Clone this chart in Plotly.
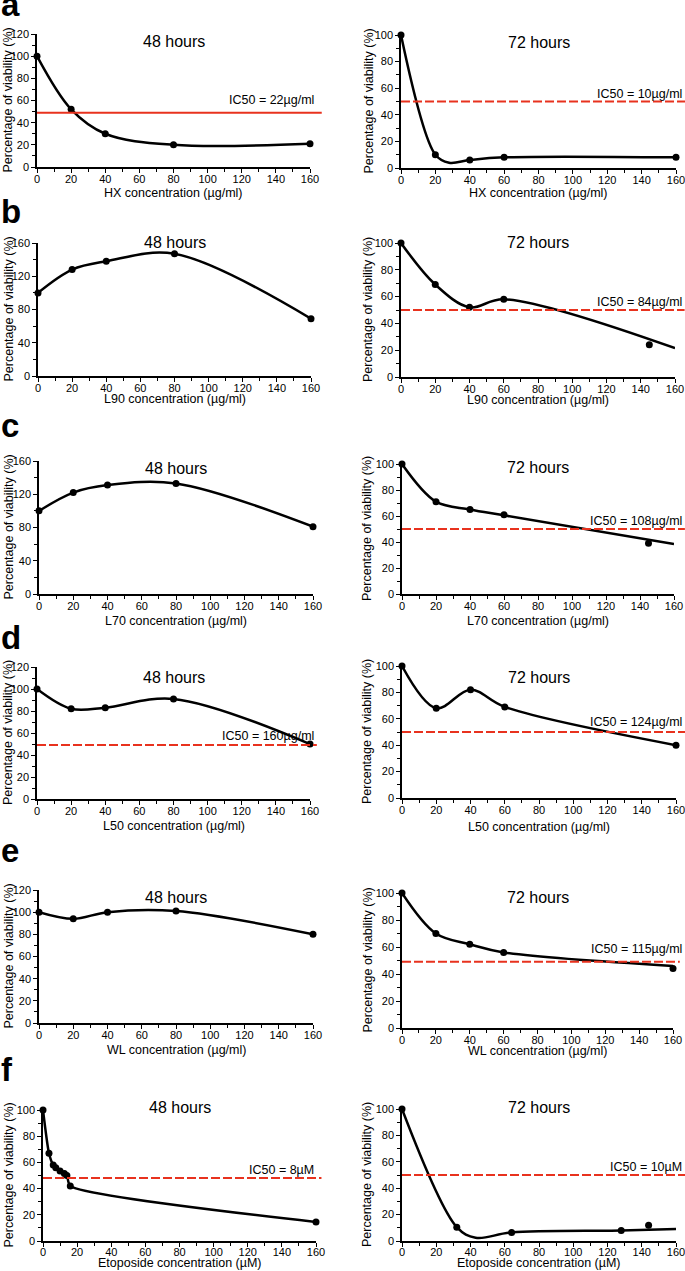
import plotly.graph_objects as go

W, H = 685, 1271
FONT = "Liberation Sans, Arial, sans-serif"
RED = "#e8321e"

# ---- data (concentration, % viability) ----
HX48_X = [0, 20, 40, 80, 160]
HX48_Y = [100, 52, 30, 20, 21]
HX72_X = [0, 20, 40, 60, 160]
HX72_Y = [100, 10, 6, 8, 8]
HX72_FIT_X = [0, 20, 28, 40, 60, 160]
HX72_FIT_Y = [100, 10, 4, 6, 8, 8]

L90_48_X = [0, 20, 40, 80, 160]
L90_48_Y = [100, 128, 138, 147, 69]
L90_72_X = [0, 20, 40, 60, 145]
L90_72_Y = [100, 69, 52, 58, 24]
L90_72_FIT_X = [0, 20, 40, 60, 160]
L90_72_FIT_Y = [100, 69, 52, 58, 21.5]

L70_48_X = [0, 20, 40, 80, 160]
L70_48_Y = [100, 122, 131, 133, 81]
L70_72_X = [0, 20, 40, 60, 145]
L70_72_Y = [100, 71, 65, 61, 39]
L70_72_FIT_X = [0, 20, 40, 60, 160]
L70_72_FIT_Y = [100, 71, 65, 60.5, 38.5]

L50_48_X = [0, 20, 40, 80, 160]
L50_48_Y = [100, 82, 83, 91, 50]
L50_72_X = [0, 20, 40, 60, 160]
L50_72_Y = [100, 68, 82, 69, 40]

WL48_X = [0, 20, 40, 80, 160]
WL48_Y = [100, 94, 100, 101, 80]
WL72_X = [0, 20, 40, 60, 160]
WL72_Y = [100, 70, 62, 56, 44]
WL72_FIT_X = [0, 20, 40, 60, 160]
WL72_FIT_Y = [100, 70, 62, 56, 46]

ETO48_X = [0, 3.5, 6, 7.5, 10, 12.5, 14, 16, 160]
ETO48_Y = [100, 67, 58, 56, 53.5, 51.5, 50, 42, 14.5]
ETO72_X = [0, 32, 64, 128, 144]
ETO72_Y = [100, 10.5, 6.5, 8, 12]
ETO72_FIT_X = [0, 32, 43, 64, 128, 160]
ETO72_FIT_Y = [100, 10.5, 2.5, 6.5, 8, 9]

LETTERS = ["a", "b", "c", "d", "e", "f"]
X_LABELS = ["HX concentration (µg/ml)", "L90 concentration (µg/ml)",
            "L70 concentration (µg/ml)", "L50 concentration (µg/ml)",
            "WL concentration (µg/ml)", "Etoposide concentration (µM)"]
Y_MAX = [120, 100, 160, 100, 160, 100, 120, 100, 120, 100, 100, 100]
IC50_VAL = [49, 50, None, 50, None, 50, 49, 50, None, 49, 48, 50]
IC50_TXT = ["IC50 = 22µg/ml", "IC50 = 10µg/ml", None, "IC50 = 84µg/ml",
            None, "IC50 = 108µg/ml", "IC50 = 160µg/ml", "IC50 = 124µg/ml",
            None, "IC50 = 115µg/ml", "IC50 = 8µM", "IC50 = 10µM"]

panels = [
    (HX48_X, HX48_Y, HX48_X, HX48_Y),
    (HX72_X, HX72_Y, HX72_FIT_X, HX72_FIT_Y),
    (L90_48_X, L90_48_Y, L90_48_X, L90_48_Y),
    (L90_72_X, L90_72_Y, L90_72_FIT_X, L90_72_FIT_Y),
    (L70_48_X, L70_48_Y, L70_48_X, L70_48_Y),
    (L70_72_X, L70_72_Y, L70_72_FIT_X, L70_72_FIT_Y),
    (L50_48_X, L50_48_Y, L50_48_X, L50_48_Y),
    (L50_72_X, L50_72_Y, L50_72_X, L50_72_Y),
    (WL48_X, WL48_Y, WL48_X, WL48_Y),
    (WL72_X, WL72_Y, WL72_FIT_X, WL72_FIT_Y),
    (ETO48_X, ETO48_Y, ETO48_X, ETO48_Y),
    (ETO72_X, ETO72_Y, ETO72_FIT_X, ETO72_FIT_Y),
]

# ---- layout geometry (pixels: left, right, top, bottom of plot area) ----
BOXES = [(37, 310, 34, 167), (401, 676, 35, 168),
         (38, 311, 243, 376), (401, 675, 243, 377),
         (39, 313, 461, 594), (402, 674, 464, 594),
         (37, 310, 667, 799), (402, 676, 666, 798),
         (39, 313, 890, 1023), (402, 673, 893, 1028),
         (43, 316, 1110, 1241), (402, 676, 1109, 1241)]
TITLE_OFF = [8, 7, 0, 0, 7, 4, 10, 11, 7, 4, -3, -2]
XT_OFF = [26, 25, 23, 23, 27, 27, 27, 29, 27, 23, 22, 22]
XLBL_STANDOFF = [-3, -3, -3, -3, -3, -3, -3, -3, -3, -3, -4, -4]
YT_OFF = [29, 33, 30, 33, 31, 35, 29, 35, 31, 35, 35, 35]
IC_TXT_X = [1.018, 1.025, 0, 1.028, 0, 1.032, 1.018, 1.024, 0, 1.037, 0.996, 1.024]
IC_LINE_END = [1.043, 1.035, 0, 1.035, 0, 1.04, 1.025, 1.033, 0, 1.025, 1.02, 1.033]
IC_TXT_OFF = [12.5, 7.7, 0, 8, 0, 8.3, 9.3, 10, 0, 12.7, 7.7, 7.7]
LETTER_BASE = [18, 225, 438, 650, 863, 1082]

fig = go.Figure()
shapes, annos = [], []

for i, (px, py, fx, fy) in enumerate(panels):
    n = i + 1
    xs = "" if n == 1 else str(n)
    l, r, t, b = BOXES[i]
    ymax = Y_MAX[i]
    ydt = 40 if ymax == 160 else 20

    fig.add_trace(go.Scatter(x=fx, y=fy, mode="lines", xaxis="x" + xs, yaxis="y" + xs,
                             line=dict(color="black", width=2.5, shape="spline",
                                       smoothing=0.6 if i == 10 else 1.0),
                             hoverinfo="skip"))
    fig.add_trace(go.Scatter(x=px, y=py, mode="markers", xaxis="x" + xs, yaxis="y" + xs,
                             marker=dict(color="black", size=7, symbol="circle"),
                             cliponaxis=False))

    common = dict(showline=True, linecolor="black", linewidth=1.5, showgrid=False,
                  zeroline=False, ticks="outside", ticklen=4, tickwidth=1.3,
                  tickcolor="black", ticklabeloverflow="allow",
                  tickfont=dict(family=FONT, size=11, color="black"))
    fig.layout["xaxis" + xs] = dict(domain=[l / W, r / W], range=[0, 160], anchor="y" + xs,
                                    tick0=0, dtick=20, ticklabelstandoff=XLBL_STANDOFF[i],
                                    minor=dict(dtick=10, ticks="outside", ticklen=3,
                                               tickwidth=1.3, tickcolor="black", showgrid=False),
                                    **common)
    fig.layout["yaxis" + xs] = dict(domain=[1 - b / H, 1 - t / H], range=[0, ymax],
                                    anchor="x" + xs, tick0=0, dtick=ydt,
                                    minor=dict(dtick=ydt / 2, ticks="outside", ticklen=3,
                                               tickwidth=1.3, tickcolor="black", showgrid=False),
                                    **common)

    xd, yd = "x" + xs + " domain", "y" + xs + " domain"
    annos.append(dict(text="48 hours" if i % 2 == 0 else "72 hours", xref=xd, yref=yd,
                      x=0.5, y=1, yshift=-TITLE_OFF[i], xanchor="center", yanchor="middle",
                      showarrow=False, borderpad=0,
                      font=dict(family=FONT, size=16, color="black")))
    annos.append(dict(text=X_LABELS[i // 2], xref=xd, yref=yd, x=0.5, y=0,
                      yshift=-XT_OFF[i], xanchor="center", yanchor="middle",
                      showarrow=False, borderpad=0,
                      font=dict(family=FONT, size=12.5, color="black")))
    annos.append(dict(text="Percentage of viability (%)", xref=xd, yref=yd, x=0, y=0.5,
                      xshift=-YT_OFF[i], textangle=-90, xanchor="center", yanchor="middle",
                      showarrow=False, borderpad=0,
                      font=dict(family=FONT, size=12.5, color="black")))

    if IC50_VAL[i] is not None:
        shapes.append(dict(type="line", xref=xd, yref="y" + xs, x0=0, x1=IC_LINE_END[i],
                           y0=IC50_VAL[i], y1=IC50_VAL[i], layer="above",
                           line=dict(color=RED, width=2,
                                     dash="solid" if i == 0 else "9px,3px")))
        annos.append(dict(text=IC50_TXT[i], xref=xd, yref="y" + xs, x=IC_TXT_X[i],
                          y=IC50_VAL[i], yshift=IC_TXT_OFF[i], xanchor="right",
                          yanchor="middle", showarrow=False, borderpad=0,
                          font=dict(family=FONT, size=12.5, color="black")))

for k, letter in enumerate(LETTERS):
    annos.append(dict(text="<b>" + letter + "</b>", xref="paper", yref="paper", x=0,
                      y=1 - (LETTER_BASE[k] - 13) / H, xanchor="left", yanchor="middle",
                      showarrow=False, borderpad=0,
                      font=dict(family=FONT, size=33, color="black")))

fig.update_layout(width=W, height=H,
                  margin=dict(l=0, r=0, t=0, b=0, pad=0, autoexpand=False),
                  paper_bgcolor="white", plot_bgcolor="white", showlegend=False,
                  shapes=shapes, annotations=annos)

fig.write_html("out.html", config={"displayModeBar": False},
               post_script="document.body.style.margin='0';")
